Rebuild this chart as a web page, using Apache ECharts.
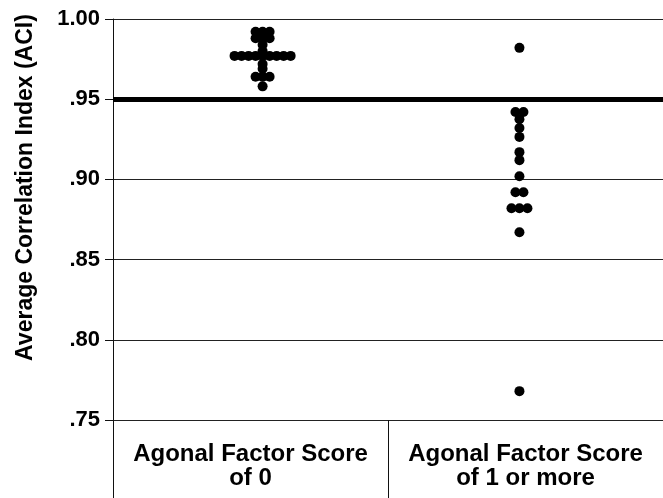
<!DOCTYPE html>
<html>
<head>
<meta charset="utf-8">
<script src="https://cdn.jsdelivr.net/npm/echarts@6/dist/echarts.min.js"></script>
<style>
  html, body { margin: 0; padding: 0; background: #fff; }
  #chart { width: 663px; height: 498px; }
</style>
</head>
<body>
<div id="chart"></div>
<script>
// groups on the x axis
const categories = ['Agonal Factor Score\nof 0', 'Agonal Factor Score\nof 1 or more'];

// ACI of each case (equal values stack side by side)
const score0Values = [
  0.992, 0.992, 0.992,
  0.988, 0.988, 0.988,
  0.984,
  0.980,
  0.977, 0.977, 0.977, 0.977, 0.977, 0.977, 0.977, 0.977, 0.977,
  0.972,
  0.969,
  0.964, 0.964, 0.964,
  0.958
];
const score1Values = [
  0.982,
  0.942, 0.942,
  0.9375,
  0.932,
  0.9265,
  0.917,
  0.912,
  0.902,
  0.892, 0.892,
  0.882, 0.882, 0.882,
  0.867,
  0.768
];

// cutoff line
const cutoff = 0.95;
const yTicks = [0.75, 0.80, 0.85, 0.90, 0.95, 1.00];

const font = 'Liberation Sans, Arial, sans-serif';

// spread equal values sideways around the column centre (x in category units)
function dotPlot(values, center, step) {
  const counts = {};
  values.forEach(v => { counts[v] = (counts[v] || 0) + 1; });
  const seen = {};
  return values.map(v => {
    seen[v] = seen[v] === undefined ? 0 : seen[v] + 1;
    return [center + (seen[v] - (counts[v] - 1) / 2) * step, v];
  });
}

const chart = echarts.init(document.getElementById('chart'));

chart.setOption({
  animation: false,
  backgroundColor: '#fff',
  grid: [
    { left: 113, right: -2, top: 19, bottom: 78 },
    { left: 113, right: -2, top: 420, bottom: 0 }
  ],
  xAxis: [
    { gridIndex: 0, type: 'value', min: 0, max: 2, show: false },
    {
      gridIndex: 1,
      type: 'category',
      position: 'top',
      data: categories,
      axisLine: { show: false },
      axisTick: { show: false },
      splitLine: { show: true, interval: 0, lineStyle: { color: '#111', width: 1 } },
      axisLabel: {
        inside: true,
        interval: 0,
        hideOverlap: false,
        margin: 22,
        color: '#000',
        fontFamily: font,
        fontWeight: 'bold',
        fontSize: 24,
        lineHeight: 24
      }
    }
  ],
  yAxis: [
    {
      gridIndex: 0,
      type: 'value',
      min: yTicks[0],
      max: yTicks[yTicks.length - 1],
      interval: 0.05,
      name: 'Average Correlation Index (ACI)',
      nameLocation: 'middle',
      nameGap: 76,
      nameTextStyle: {
        color: '#000',
        fontFamily: font,
        fontWeight: 'bold',
        fontSize: 23,
        padding: [0, 0, 0, 64]
      },
      axisLine: { show: true, lineStyle: { color: '#111', width: 1 } },
      axisTick: { show: true, inside: false, length: 8, lineStyle: { color: '#111' } },
      splitLine: { show: true, lineStyle: { color: '#222', width: 1 } },
      axisLabel: {
        margin: 13,
        color: '#000',
        fontFamily: font,
        fontWeight: 'bold',
        fontSize: 22,
        formatter: v => v.toFixed(2).replace(/^0/, '')
      }
    },
    { gridIndex: 1, type: 'value', show: false }
  ],
  series: [
    {
      type: 'scatter',
      xAxisIndex: 0,
      yAxisIndex: 0,
      symbolSize: 10,
      itemStyle: { color: '#000', opacity: 1 },
      data: dotPlot(score0Values, 0.544, 0.0255),
      markLine: {
        silent: true,
        symbol: 'none',
        label: { show: false },
        lineStyle: { color: '#000', width: 5, type: 'solid' },
        data: [{ yAxis: cutoff }]
      }
    },
    {
      type: 'scatter',
      xAxisIndex: 0,
      yAxisIndex: 0,
      symbolSize: 10,
      itemStyle: { color: '#000', opacity: 1 },
      data: dotPlot(score1Values, 1.478, 0.029)
    }
  ]
});
</script>
</body>
</html>
